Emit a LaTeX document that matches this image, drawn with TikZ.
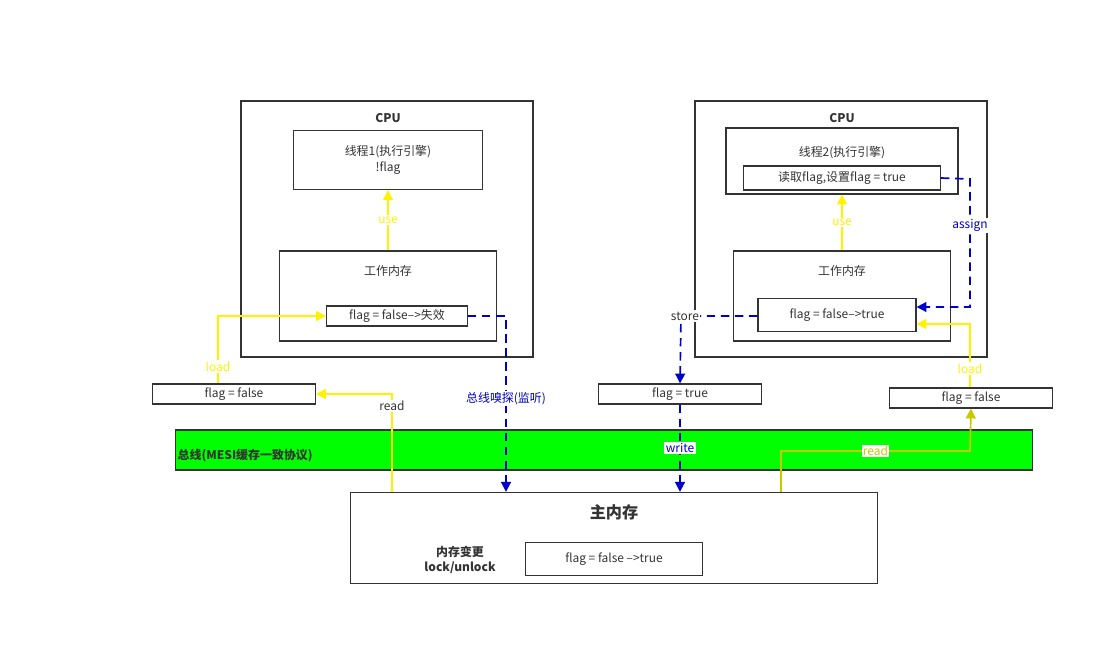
\documentclass[tikz,border=0pt]{standalone}
\usepackage{fontspec}
\setmainfont{Noto Sans CJK SC}
\usetikzlibrary{arrows.meta}
\definecolor{boxline}{HTML}{333333}
\definecolor{busgreen}{HTML}{00FF00}
\definecolor{snoop}{HTML}{0000CC}
\definecolor{olive}{HTML}{C8C800}
\begin{document}
\begin{tikzpicture}[x=0.025cm, y=-0.025cm, font=\fontsize{8.5}{11}\selectfont, text=boxline,
	blk/.style={draw=boxline, line width=0.8pt, rectangle, inner sep=0pt, align=center},
	lbl/.style={inner sep=1pt, align=center},
	yel/.style={yellow, line width=1.2pt, -{Triangle[length=7pt, width=7pt]}},
	blu/.style={snoop, line width=1.2pt, dash pattern=on 6pt off 4pt, -{Triangle[length=7pt, width=7pt]}}]
	\useasboundingbox (0,0) rectangle (1115,647);
	
	%Left CPU
	\node (cpuA) at (387,229) [blk, minimum width=7.3cm, minimum height=6.4cm]{};
	\node (cpuAtitle) at (388,118) [lbl, font=\fontsize{8.5}{11}\selectfont\bfseries]{CPU};
	\node (threadA) at (388,160) [blk, minimum width=4.72cm, minimum height=1.48cm]{线程1(执行引擎)\\!flag};
	\node (workA) at (388,296) [blk, minimum width=5.42cm, minimum height=2.25cm]{};
	\node (workAtitle) at (388,271) [lbl]{工作内存};
	\node (flagA) at (397,316) [blk, minimum width=3.52cm, minimum height=0.5cm]{flag = false-->失效};
	\node (copyA) at (234,394) [blk, minimum width=4.07cm, minimum height=0.5cm]{flag = false};
	
	%Right CPU
	\node (cpuB) at (841,229) [blk, minimum width=7.3cm, minimum height=6.4cm]{};
	\node (cpuBtitle) at (842,118) [lbl, font=\fontsize{8.5}{11}\selectfont\bfseries]{CPU};
	\node (threadB) at (842,161) [blk, minimum width=5.8cm, minimum height=1.65cm]{};
	\node (threadBtitle) at (842,153) [lbl]{线程2(执行引擎)};
	\node (setB) at (842,178) [blk, minimum width=4.92cm, minimum height=0.6cm]{读取flag,设置flag = true};
	\node (workB) at (842,296) [blk, minimum width=5.42cm, minimum height=2.25cm]{};
	\node (workBtitle) at (842,271) [lbl]{工作内存};
	\node (flagB) at (837,315) [blk, minimum width=3.95cm, minimum height=0.82cm]{flag = false-->true};
	\node (copyB) at (680,394) [blk, minimum width=4.07cm, minimum height=0.5cm]{flag = true};
	\node (copyC) at (971,398) [blk, minimum width=4.07cm, minimum height=0.5cm]{flag = false};
	
	%Bus and main memory
	\node (bus) at (604,450) [blk, fill=busgreen, minimum width=21.42cm, minimum height=1cm]{};
	\node (busText) at (176,456) [lbl, anchor=west, font=\fontsize{8.5}{11}\selectfont\bfseries]{总线(MESI缓存一致协议)};
	\node (mainMem) at (614,538) [blk, minimum width=13.17cm, minimum height=2.28cm]{};
	\node (mainTitle) at (614,512) [lbl, font=\fontsize{11.5}{14}\selectfont\bfseries]{主内存};
	\node (lockText) at (460,560) [lbl, font=\fontsize{8.5}{11}\selectfont\bfseries]{内存变更\\lock/unlock};
	\node (mainFlag) at (614,559) [blk, minimum width=4.42cm, minimum height=0.82cm]{flag = false -->true};
	
	%Turning points
	\coordinate (loadA) at (218,316);
	\coordinate (readA) at (392,394);
	\coordinate (snoopA) at (506,316);
	\coordinate (assignTop) at (970,179);
	\coordinate (assignBot) at (970,307);
	\coordinate (storeCorner) at (681,316);
	\coordinate (loadC) at (970,324);
	\coordinate (readC) at (781,451);
	\coordinate (readCc) at (970,451);
	
	%Left links
	\draw[yel] (workA.north) -- node[lbl, fill=white]{use} (threadA.south);
	\draw[yel] (copyA.north -| loadA) -- node[lbl, fill=white, pos=0.25]{load} (loadA) -- (flagA.west);
	\draw[yel] (mainMem.north -| readA) -- (readA) -- (copyA.east);
	\node (readAtext) at (392,406) [lbl, fill=white]{read};
	\draw[blu] (flagA.east) -- (snoopA) -- node[lbl, fill=white, pos=0.47]{总线嗅探(监听)} (snoopA |- mainMem.north);
	
	%Right links
	\draw[yel] (workB.north) -- node[lbl, fill=white]{use} (threadB.south);
	\draw[blu] (setB.east) -- (assignTop) -- node[lbl, fill=white, pos=0.36]{assign} (assignBot) -- (assignBot -| flagB.east);
	\draw[blu] (flagB.west |- storeCorner) -- (storeCorner) -- (copyB.north);
	\node (storeText) at (685,316) [lbl, fill=white]{store};
	\draw[blu] (copyB.south) -- node[lbl, fill=white]{write} (copyB.south |- mainMem.north);
	\draw[yel] (copyC.north -| loadC) -- node[lbl, fill=white, pos=0.3]{load} (loadC) -- (loadC -| flagB.east);
	\draw[olive, line width=1.2pt, -{Triangle[length=7pt, width=7pt]}] (mainMem.north -| readC) -- (readC) -- node[lbl, fill=white]{read} (readCc) -- (copyC.south);
	
\end{tikzpicture}
\end{document}
